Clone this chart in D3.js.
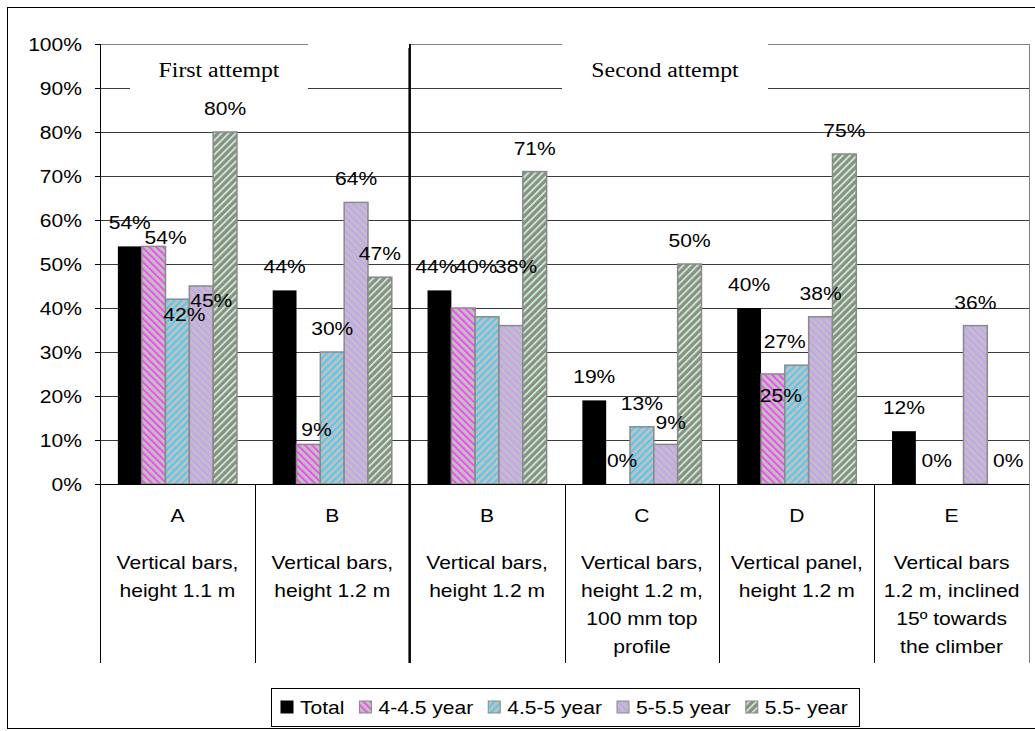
<!DOCTYPE html>
<html><head><meta charset="utf-8">
<script src="https://cdn.jsdelivr.net/npm/d3@7"></script>
<style>
html,body{margin:0;padding:0;background:#fff;}
svg{display:block;}
text{font-family:"Liberation Sans",Arial,sans-serif;fill:#000;}
</style></head>
<body>
<svg id="chart" width="1035" height="731"></svg>
<script>
// ---------------- data ----------------
const categories = ["A", "B", "B", "C", "D", "E"];
const catDesc = [
  ["Vertical bars,", "height 1.1 m"],
  ["Vertical bars,", "height 1.2 m"],
  ["Vertical bars,", "height 1.2 m"],
  ["Vertical bars,", "height 1.2 m,", "100 mm top", "profile"],
  ["Vertical panel,", "height 1.2 m"],
  ["Vertical bars", "1.2 m, inclined", "15º towards", "the climber"]
];
const seriesNames = ["Total", "4-4.5 year", "4.5-5 year", "5-5.5 year", "5.5- year"];
const total  = [54, 44, 44, 19, 40, 12];
const age4   = [54,  9, 40,  0, 25,  0];
const age45  = [42, 30, 38, 13, 27, null];
const age5   = [45, 64, 36,  9, 38, 36];
const age55  = [80, 47, 71, 50, 75,  0];
const yTicks = [0, 10, 20, 30, 40, 50, 60, 70, 80, 90, 100];
const groupTitles = ["First attempt", "Second attempt"];

// label nudges for overlapping data labels: [series, category, dx, dy]
const labelNudge = [
  [1, 0, 12, 15], [2, 0, 7, 39], [3, 0, 10, 38],
  [1, 1, 8, 9], [3, 3, 5, 2], [1, 3, 4, 0],
  [0, 2, -3, 0], [1, 2, 13, -18], [2, 2, 29, -27],
  [1, 4, 8, 45], [2, 4, -12, 0], [1, 5, 9, 0], [4, 5, 9, 0]
];
const hiddenLabels = [[3, 2]];

// ---------------- layout ----------------
(function () {
const series = [total, age4, age45, age5, age55];
const SX = 1.17;        // horizontal stretch of the original picture's text
const FS = 18;
const svg = d3.select("#chart");
const pL = 100, pR = 1029, pT = 44, pB = 484, catBottom = 663;

const x0 = d3.scaleBand().domain(d3.range(categories.length)).range([pL, pR]);
const x1 = d3.scaleBand().domain(d3.range(series.length)).range([0, x0.bandwidth()]).paddingOuter(0.75);
const y = d3.scaleLinear().domain([0, 100]).range([pB, pT]);

// patterns
const defs = svg.append("defs");
const pats = [
  null,
  {id: "pPink",   bg: "#c0c0c0", fg: "#ff33ff", dir: -45, w: 1.6},
  {id: "pBlue",   bg: "#c0c0c0", fg: "#33ccff", dir: 45, w: 1.6},
  {id: "pPurple", bg: "#c0bcc8", fg: "#cc99ff", dir: -45, w: 1.4},
  {id: "pGreen",  bg: "#8c8c8c", fg: "#ccffcc", dir: 45, w: 1.6}
];
pats.forEach(p => {
  if (!p) return;
  const pt = defs.append("pattern").attr("id", p.id).attr("patternUnits", "userSpaceOnUse")
    .attr("width", 5).attr("height", 5).attr("patternTransform", `rotate(${p.dir})`);
  pt.append("rect").attr("width", 5).attr("height", 5).attr("fill", p.bg);
  pt.append("rect").attr("width", p.w).attr("height", 5).attr("fill", p.fg);
});
const fillOf = i => i === 0 ? "#000" : `url(#${pats[i].id})`;
const strokeOf = i => i === 0 ? "#000" : "#8a8a8a";

// stretched text helper
function stext(g, x, yy, str, opts = {}) {
  const gg = g.append("g").attr("transform", `translate(${x},${yy}) scale(${opts.sx || SX},1)`);
  const t = gg.append("text").attr("x", 0).attr("y", 0)
    .attr("text-anchor", opts.anchor || "middle")
    .attr("font-size", opts.size || FS)
    .text(str);
  if (opts.family) t.style("font-family", opts.family);
  if (opts.dy) t.attr("dy", opts.dy);
  return t;
}

// outer border (its right side lies beyond the picture)
svg.append("rect").attr("x", 7.5).attr("y", 7.5).attr("width", 1040).attr("height", 721)
  .attr("fill", "none").attr("stroke", "#000").attr("stroke-width", 1);

// gridlines
const grid = svg.append("g");
grid.selectAll("line").data(yTicks.filter(d => d > 0)).join("line")
  .attr("x1", pL).attr("x2", pR)
  .attr("y1", d => Math.round(y(d)) + 0.5).attr("y2", d => Math.round(y(d)) + 0.5)
  .attr("stroke", d => d === 100 ? "#808080" : "#3a3a3a").attr("stroke-width", 1);
svg.append("line").attr("x1", pR + 0.5).attr("x2", pR + 0.5).attr("y1", pT).attr("y2", pB)
  .attr("stroke", "#808080");

// y axis
const yAxis = svg.append("g");
yAxis.append("line").attr("x1", pL + 0.5).attr("x2", pL + 0.5).attr("y1", pT).attr("y2", pB)
  .attr("stroke", "#000");
yTicks.forEach(t => {
  const yy = Math.round(y(t)) + 0.5;
  yAxis.append("line").attr("x1", pL - 5).attr("x2", pL).attr("y1", yy).attr("y2", yy).attr("stroke", "#000");
  stext(yAxis, 82, yy, t + "%", {anchor: "end", dy: "0.36em"});
});

// bars
const bars = svg.append("g");
series.forEach((vals, si) => {
  bars.selectAll(null).data(vals.map((v, ci) => ({v, ci})).filter(d => d.v !== null && d.v > 0)).join("rect")
    .attr("x", d => x0(d.ci) + x1(si))
    .attr("y", d => y(d.v))
    .attr("width", x1.bandwidth())
    .attr("height", d => pB - y(d.v))
    .attr("fill", fillOf(si))
    .attr("stroke", strokeOf(si))
    .attr("stroke-width", si === 0 ? 0 : 1.5);
});

// baseline & category grid
const cat = svg.append("g");
cat.append("line").attr("x1", pL - 5).attr("x2", pR).attr("y1", pB + 0.5).attr("y2", pB + 0.5)
  .attr("stroke", "#000");
d3.range(categories.length + 1).forEach(i => {
  const xx = i < categories.length ? x0(i) : pR;
  if (i === 2) return;
  cat.append("line").attr("x1", Math.round(xx) + 0.5).attr("x2", Math.round(xx) + 0.5)
    .attr("y1", pB).attr("y2", catBottom).attr("stroke", i === 6 ? "#808080" : "#000");
});
categories.forEach((c, i) => {
  const cx = x0(i) + x0.bandwidth() / 2;
  stext(cat, cx, 516, c, {dy: "0.36em"});
  catDesc[i].forEach((line, k) => {
    stext(cat, cx, 563 + k * 27.7, line, {dy: "0.36em"});
  });
});

// divider between attempts
svg.append("line").attr("x1", x0(2)).attr("x2", x0(2)).attr("y1", pT).attr("y2", catBottom)
  .attr("stroke", "#000").attr("stroke-width", 2.5);

// data labels
const labels = svg.append("g");
series.forEach((vals, si) => {
  vals.forEach((v, ci) => {
    if (v === null) return;
    if (hiddenLabels.some(h => h[0] === si && h[1] === ci)) return;
    const n = labelNudge.find(h => h[0] === si && h[1] === ci) || [0, 0, 0, 0];
    const cx = x0(ci) + x1(si) + x1.bandwidth() / 2 + n[2];
    const by = y(v) - 17 + n[3];
    stext(labels, cx, by, v + "%");
  });
});

// attempt titles (white text boxes laid over the gridlines)
const titleBoxes = [
  {rects: [[130, 308, 47, 100], [308, 409, 41, 48]], cx: 219},
  {rects: [[562, 768, 41, 100]], cx: 665}
];
groupTitles.forEach((t, i) => {
  const b = titleBoxes[i];
  b.rects.forEach(r => svg.append("rect").attr("x", r[0]).attr("y", r[2])
    .attr("width", r[1] - r[0]).attr("height", r[3] - r[2]).attr("fill", "#fff"));
  stext(svg, b.cx, 70, t, {family: "'Liberation Serif','Times New Roman',serif", size: 20, sx: 1.19, dy: "0.33em"});
});

// legend
const lg = svg.append("g");
lg.append("rect").attr("x", 271.5).attr("y", 688.5).attr("width", 588).attr("height", 38)
  .attr("fill", "#fff").attr("stroke", "#000");
let lx = 281;
seriesNames.forEach((name, i) => {
  lg.append("rect").attr("x", lx).attr("y", 701).attr("width", 12).attr("height", 12)
    .attr("fill", fillOf(i)).attr("stroke", i === 0 ? "#000" : "#8a8a8a").attr("stroke-width", 1);
  const t = stext(lg, lx + 19, 708, name, {anchor: "start", dy: "0.36em"});
  const w = t.node().getComputedTextLength() * SX;
  lx += 19 + w + 15;
});
})();
</script>
</body></html>
